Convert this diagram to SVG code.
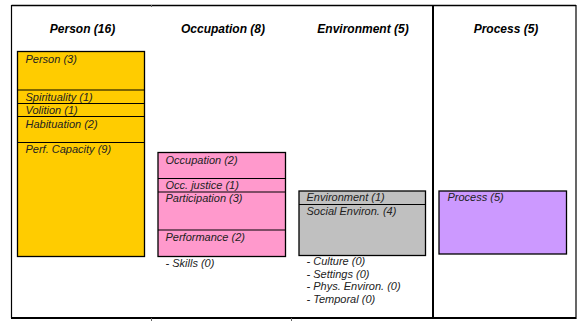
<svg xmlns="http://www.w3.org/2000/svg" width="578" height="327" viewBox="0 0 578 327">
<style>
.h{font-family:"Liberation Sans",Arial,sans-serif;font-size:12px;font-weight:bold;font-style:italic;fill:#000;text-anchor:middle}
.t{font-family:"Liberation Sans",Arial,sans-serif;font-size:11px;font-style:italic;fill:#222}
.b{stroke:#000;stroke-width:1.3}
.d{stroke:#000;stroke-width:1.2}
.f{stroke:#000;fill:none}
</style>
<rect width="578" height="327" fill="#fff"/>
<g id="frame">
<line class="f" x1="11.5" y1="5.5" x2="576" y2="5.5" stroke-width="1.5"/>
<line class="f" x1="11.5" y1="5" x2="11.5" y2="318" stroke-width="1.2"/>
<line class="f" x1="11" y1="318" x2="576" y2="318" stroke-width="2"/>
<line class="f" x1="576" y1="5" x2="576" y2="319" stroke="#555" stroke-width="1.2"/>
<line class="f" x1="433" y1="5" x2="433" y2="319" stroke-width="2"/>
<line x1="151.5" y1="5" x2="151.5" y2="7" stroke="#666" stroke-width="1"/>
<line x1="151.5" y1="318" x2="151.5" y2="321" stroke="#666" stroke-width="1"/>
<line x1="291.5" y1="318" x2="291.5" y2="321" stroke="#666" stroke-width="1"/>
</g>
<g id="headers">
<text class="h" x="82.5" y="33">Person (16)</text>
<text class="h" x="223" y="33">Occupation (8)</text>
<text class="h" x="363" y="33">Environment (5)</text>
<text class="h" x="506" y="33">Process (5)</text>
</g>
<g id="person">
<rect class="b" x="17.5" y="51.5" width="127" height="205" fill="#FFCC00"/>
<line class="d" x1="17.5" y1="90" x2="144.5" y2="90"/>
<line class="d" x1="17.5" y1="103.5" x2="144.5" y2="103.5"/>
<line class="d" x1="17.5" y1="116.5" x2="144.5" y2="116.5"/>
<line class="d" x1="17.5" y1="142.5" x2="144.5" y2="142.5"/>
<text class="t" x="25.5" y="63">Person (3)</text>
<text class="t" x="25.5" y="101">Spirituality (1)</text>
<text class="t" x="25.5" y="113.5">Volition (1)</text>
<text class="t" x="25.5" y="128">Habituation (2)</text>
<text class="t" x="25.5" y="153">Perf. Capacity (9)</text>
</g>
<g id="occupation">
<rect class="b" x="158" y="152.5" width="127.5" height="104" fill="#FF99CC"/>
<line class="d" x1="158" y1="178.5" x2="285.5" y2="178.5"/>
<line class="d" x1="158" y1="192" x2="285.5" y2="192"/>
<line class="d" x1="158" y1="230" x2="285.5" y2="230"/>
<text class="t" x="165.5" y="163.5">Occupation (2)</text>
<text class="t" x="165.5" y="189">Occ. justice (1)</text>
<text class="t" x="165.5" y="202">Participation (3)</text>
<text class="t" x="165.5" y="241">Performance (2)</text>
<text class="t" x="165.5" y="267">- Skills (0)</text>
</g>
<g id="environment">
<rect class="b" x="299" y="191" width="126.5" height="64.5" fill="#C0C0C0"/>
<line class="d" x1="299" y1="204.5" x2="425.5" y2="204.5"/>
<text class="t" x="306.5" y="201">Environment (1)</text>
<text class="t" x="306.5" y="214.5">Social Environ. (4)</text>
<text class="t" x="306.5" y="265">- Culture (0)</text>
<text class="t" x="306.5" y="277.5">- Settings (0)</text>
<text class="t" x="306.5" y="290">- Phys. Environ. (0)</text>
<text class="t" x="306.5" y="302.5">- Temporal (0)</text>
</g>
<g id="process">
<rect class="b" x="439" y="191" width="127.5" height="63" fill="#CC99FF"/>
<text class="t" x="447.5" y="201">Process (5)</text>
</g>
</svg>
